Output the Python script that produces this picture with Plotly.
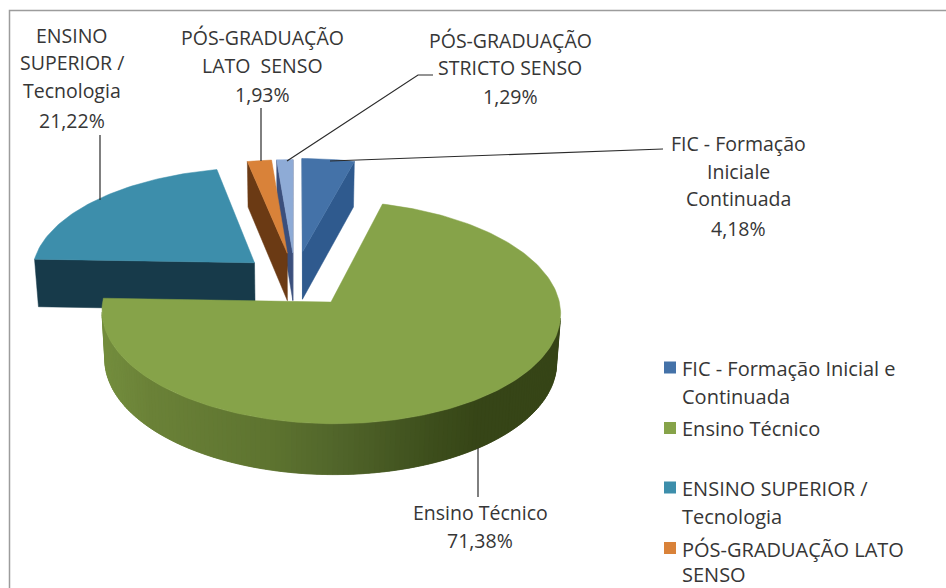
import numpy as np
import plotly.graph_objects as go

# ---------- data ----------
categories = ["FIC - Formação Inicial e Continuada", "Ensino Técnico", "ENSINO SUPERIOR / Tecnologia",
              "PÓS-GRADUAÇÃO LATO SENSO", "PÓS-GRADUAÇÃO STRICTO SENSO"]
values = [4.18, 71.38, 21.22, 1.93, 1.29]
label_lines = [["FIC - Formação", "Iniciale", "Continuada"],
               ["Ensino Técnico"],
               ["ENSINO", "SUPERIOR /", "Tecnologia"],
               ["PÓS-GRADUAÇÃO", "LATO  SENSO"],
               ["PÓS-GRADUAÇÃO", "STRICTO SENSO"]]
legend_lines = [["FIC - Formação Inicial e", "Continuada"],
                ["Ensino Técnico"],
                ["ENSINO SUPERIOR /", "Tecnologia"],
                ["PÓS-GRADUAÇÃO LATO", "SENSO"]]

# ---------- style / layout ----------
top_colors = ["#4472a8", "#86a349", "#3d8eab", "#d98239", "#8eabd6"]
side_colors = ["#2f5a8e", "#5f7530", "#173a4a", "#6b3a14", "#3b4f7c"]
explode = [0.265, 0.265, 0.24, 0.25, 0.25]
FONT = "Open Sans"
TXT = "#363636"
FS_LABEL = 19.5
FS_LEGEND = 20
label_x = [738, 480, 72, 262, 510]
label_y = [[143, 171, 198, 228], [512, 540], [35, 62, 90, 120], [37, 65, 94], [40, 67, 96]]
legend_sq_y = [367.5, 428, 487.5, 548]
legend_txt_y = [[368, 396], [428], [488, 516], [549, 574.5]]
leaders = [([330, 663], [161, 149]),
           ([478, 478], [448, 497]),
           ([100, 100], [200, 135]),
           ([261, 261], [161, 108]),
           ([287, 418, 433], [161, 75, 75])]

# projection of the tilted pie plane onto the page
X0, Y0, A, B, K, DEPTH = 295, 279, 224, 106.3, 0.09, 48


def project(X, Y, drop=False):
    X, Y = np.asarray(X, float), np.asarray(Y, float)
    s = 1 / (1 + K * Y)
    x = X0 + A * X * s
    y = Y0 - B * Y * s
    if drop:
        x = X0 + (x - X0) * 0.985
        y = y + DEPTH * np.sqrt(s)
    return x, y


def area(px, py):
    return 0.5 * np.sum(px * np.roll(py, -1) - np.roll(px, -1) * py)


def green_shade(x):
    stops = [103, 150, 270, 335, 435, 480, 560]
    rgb = np.array([[116, 142, 62], [107, 130, 56], [94, 116, 48], [82, 102, 43], [61, 78, 28], [54, 69, 23], [54, 69, 23]])
    return "rgb(%d,%d,%d)" % tuple(np.interp(x, stops, rgb[:, i]) for i in range(3))


fig = go.Figure()


def poly(px, py, color):
    fig.add_trace(go.Scatter(x=list(px) + [px[0]], y=list(py) + [py[0]], mode="lines", fill="toself",
                             fillcolor=color, line=dict(color=color, width=0.5), hoverinfo="skip", showlegend=False))


# slice angles, clockwise from the top
edges = np.concatenate([[0], np.cumsum(values)]) * 3.6
slices = []
for i, v in enumerate(values):
    t = np.radians(np.linspace(edges[i], edges[i + 1], max(4, int(v * 3))))
    m = np.radians((edges[i] + edges[i + 1]) / 2)
    ax, ay = explode[i] * np.sin(m), explode[i] * np.cos(m)
    slices.append((i, t, ax, ay))

for i, t, ax, ay in [slices[j] for j in (0, 4, 3, 2, 1)]:
    X = ax + np.sin(t)
    Y = ay + np.cos(t)
    tx, ty = project(X, Y)
    bx, by = project(X, Y, True)
    atx, aty = project(ax, ay)
    abx, aby = project(ax, ay, True)
    # radial cut faces, when they face the viewer
    f1x = np.array([atx, tx[0], bx[0], abx]); f1y = np.array([aty, ty[0], by[0], aby])
    f2x = np.array([tx[-1], atx, abx, bx[-1]]); f2y = np.array([ty[-1], aty, aby, by[-1]])
    for fx, fy in ((f1x, f1y), (f2x, f2y)):
        if area(fx, fy) < 0:
            poly(fx, fy, side_colors[i])
    # outer wall; each quad overlaps the next one so no seams show
    for k in range(len(t) - 1):
        e = min(k + 2, len(t) - 1)
        qx = np.array([tx[k], tx[k + 1], bx[k + 1], bx[k]])
        qy = np.array([ty[k], ty[k + 1], by[k + 1], by[k]])
        if area(qx, qy) < 0:
            c = green_shade(qx.mean()) if i == 1 else side_colors[i]
            poly(np.array([tx[k], tx[k + 1], tx[e], bx[e], bx[k + 1], bx[k]]),
                 np.array([ty[k], ty[k + 1], ty[e], by[e], by[k + 1], by[k]]), c)
    # top surface
    poly(np.r_[atx, tx], np.r_[aty, ty], top_colors[i])

# leader lines
for lx, ly in leaders:
    fig.add_trace(go.Scatter(x=lx, y=ly, mode="lines", line=dict(color="#2b2b2b", width=1.2),
                             hoverinfo="skip", showlegend=False))

annotations = []


def text(x, y, s, size, anchor="center"):
    annotations.append(dict(x=x, y=y, text=s, showarrow=False, xanchor=anchor, yanchor="middle",
                            font=dict(family=FONT, size=size, color=TXT)))


for i in range(len(values)):
    lines = label_lines[i] + [("%.2f%%" % values[i]).replace(".", ",")]
    for s, y in zip(lines, label_y[i]):
        text(label_x[i], y, s, FS_LABEL)

# legend
for i in range(len(legend_lines)):
    fig.add_trace(go.Scatter(x=[670], y=[legend_sq_y[i]], mode="markers",
                             marker=dict(symbol="square", size=12, color=top_colors[i]),
                             name=categories[i], hoverinfo="skip", showlegend=False))
    for s, y in zip(legend_lines[i], legend_txt_y[i]):
        text(680, y, s, FS_LEGEND, "left")

fig.update_layout(
    width=946, height=588, margin=dict(l=0, r=0, t=0, b=0),
    paper_bgcolor="white", plot_bgcolor="white",
    xaxis=dict(range=[0, 946], visible=False, fixedrange=True),
    yaxis=dict(range=[588, 0], visible=False, fixedrange=True),
    annotations=annotations, showlegend=False,
    shapes=[dict(type="rect", xref="x", yref="y", x0=9.5, y0=10.5, x1=990, y1=640,
                 line=dict(color="#9c9c9c", width=1.5), layer="below")],
)
fig.write_html("out.html", config={"displayModeBar": False, "responsive": False},
               post_script="document.body.style.margin='0';document.documentElement.style.overflow='hidden';")
